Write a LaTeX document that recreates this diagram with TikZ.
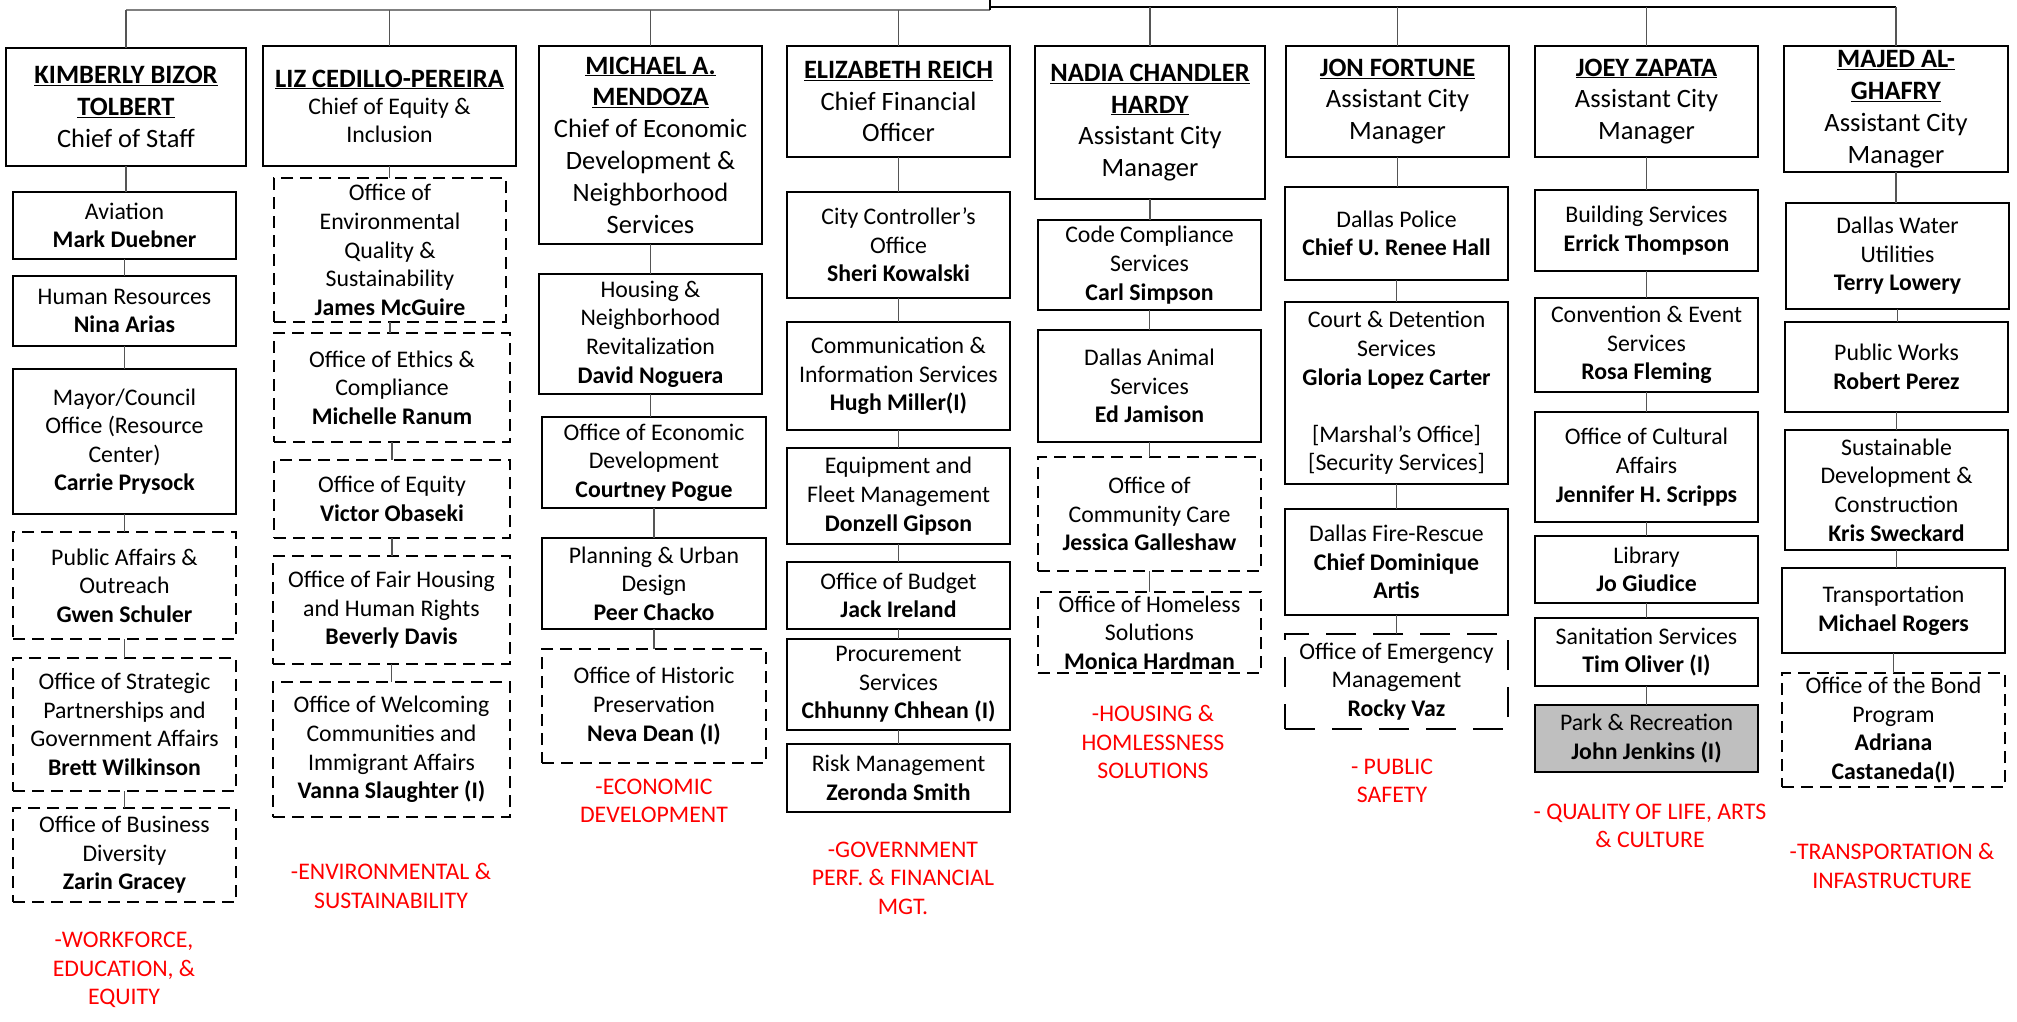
\documentclass[tikz,border=0pt]{standalone}
\usepackage{fontspec}
\setmainfont{Carlito}
\definecolor{parkgray}{RGB}{191,191,191}
\definecolor{conngray}{RGB}{85,85,85}
\definecolor{busgray}{RGB}{128,128,128}
\newcommand\subfont{\fontsize{23.8}{28.6}\selectfont}
\newcommand\headfont{\fontsize{26.5}{31.8}\selectfont}
\newcommand\lizfont{\fontsize{23.8}{27.5}\selectfont}
\newcommand\nm[1]{\underline{\textbf{#1}}}
\tikzset{
 box/.style={draw=black, line width=2pt, rectangle, inner sep=0pt, outer sep=0pt},
 dbox/.style={box, dash pattern=on 12pt off 7pt},
 lbox/.style={box, dash pattern=on 30pt off 17pt},
 gbox/.style={box, fill=parkgray},
 txt/.style={align=center, inner sep=0pt, font=\subfont},
 htxt/.style={align=center, inner sep=0pt, font=\headfont},
 ltxt/.style={align=center, inner sep=0pt, font=\lizfont},
 conn/.style={draw=conngray, line width=1.3pt},
 redlbl/.style={align=center, inner sep=0pt, font=\subfont, text=red},
}
% name, box style, text style, x1, y1, x2, y2, text
\newcommand\orgbox[8]{%
 \node[#2, minimum width={(#6-#4)*1pt}, minimum height={(#7-#5)*1pt}] (#1) at ({(#4+#6)/2},{-(#5+#7)/2}) {};
 \node[#3] (#1t) at (#1.center) {#8};}
\begin{document}
\begin{tikzpicture}[x=1pt,y=1pt]
\useasboundingbox (0,0) rectangle (2017,-1021);
% ---------- column 1
\orgbox{h1}{box}{htxt}{6}{48}{246}{166}{\nm{KIMBERLY BIZOR}\\\nm{TOLBERT}\\Chief of Staff}
\orgbox{c1a}{box}{txt}{13}{192}{236}{259}{Aviation\\\textbf{Mark Duebner}}
\orgbox{c1b}{box}{txt}{13}{276}{236}{346}{Human Resources\\\textbf{Nina Arias}}
\orgbox{c1c}{box}{txt}{13}{369}{236}{514}{Mayor/Council\\Office (Resource\\Center)\\\textbf{Carrie Prysock}}
\orgbox{c1d}{dbox}{txt}{13}{532}{236}{639}{Public Affairs \&\\Outreach\\\textbf{Gwen Schuler}}
\orgbox{c1e}{dbox}{txt}{13}{658}{236}{791}{Office of Strategic\\Partnerships and\\Government Affairs\\\textbf{Brett Wilkinson}}
\orgbox{c1f}{dbox}{txt}{13}{808}{236}{902}{Office of Business\\Diversity\\\textbf{Zarin Gracey}}
% ---------- column 2
\orgbox{h2}{box}{ltxt}{263}{46}{516}{166}{{\headfont\nm{LIZ CEDILLO-PEREIRA}}\\Chief of Equity \&\\Inclusion}
\orgbox{c2a}{dbox}{txt}{274}{178}{506}{322}{Office of\\Environmental\\Quality \&\\Sustainability\\\textbf{James McGuire}}
\orgbox{c2b}{dbox}{txt}{274}{333}{510}{442}{Office of Ethics \&\\Compliance\\\textbf{Michelle Ranum}}
\orgbox{c2c}{dbox}{txt}{274}{460}{510}{538}{Office of Equity\\\textbf{Victor Obaseki}}
\orgbox{c2d}{dbox}{txt}{273}{556}{510}{664}{Office of Fair Housing\\and Human Rights\\\textbf{Beverly Davis}}
\orgbox{c2e}{dbox}{txt}{273}{682}{510}{817}{Office of Welcoming\\Communities and\\Immigrant Affairs\\\textbf{Vanna Slaughter (I)}}
% ---------- column 3
\orgbox{h3}{box}{htxt}{539}{46}{762}{244}{\nm{MICHAEL A.}\\\nm{MENDOZA}\\Chief of Economic\\Development \&\\Neighborhood\\Services}
\orgbox{c3a}{box}{txt}{539}{274}{762}{394}{Housing \&\\Neighborhood\\Revitalization\\\textbf{David Noguera}}
\orgbox{c3b}{box}{txt}{542}{417}{766}{508}{Office of Economic\\Development\\\textbf{Courtney Pogue}}
\orgbox{c3c}{box}{txt}{542}{538}{766}{629}{Planning \& Urban\\Design\\\textbf{Peer Chacko}}
\orgbox{c3d}{dbox}{txt}{542}{649}{766}{763}{Office of Historic\\Preservation\\\textbf{Neva Dean (I)}}
% ---------- column 4
\orgbox{h4}{box}{htxt}{787}{46}{1010}{157}{\nm{ELIZABETH REICH}\\Chief Financial\\Officer}
\orgbox{c4a}{box}{txt}{787}{192}{1010}{298}{City Controller’s\\Office\\\textbf{Sheri Kowalski}}
\orgbox{c4b}{box}{txt}{787}{322}{1010}{430}{Communication \&\\Information Services\\\textbf{Hugh Miller(I)}}
\orgbox{c4c}{box}{txt}{787}{448}{1010}{544}{Equipment and\\Fleet Management\\\textbf{Donzell Gipson}}
\orgbox{c4d}{box}{txt}{787}{562}{1010}{629}{Office of Budget\\\textbf{Jack Ireland}}
\orgbox{c4e}{box}{txt}{787}{639}{1010}{730}{Procurement\\Services\\\textbf{Chhunny Chhean (I)}}
\orgbox{c4f}{box}{txt}{787}{744}{1010}{812}{Risk Management\\\textbf{Zeronda Smith}}
% ---------- column 5
\orgbox{h5}{box}{htxt}{1035}{46}{1265}{199}{\nm{NADIA CHANDLER}\\\nm{HARDY}\\Assistant City\\Manager}
\orgbox{c5a}{box}{txt}{1038}{220}{1261}{310}{Code Compliance\\Services\\\textbf{Carl Simpson}}
\orgbox{c5b}{box}{txt}{1038}{330}{1261}{442}{Dallas Animal\\Services\\\textbf{Ed Jamison}}
\orgbox{c5c}{dbox}{txt}{1038}{457}{1261}{571}{Office of\\Community Care\\\textbf{Jessica Galleshaw}}
\orgbox{c5d}{dbox}{txt}{1038}{592}{1261}{673}{Office of Homeless\\Solutions\\\textbf{Monica Hardman}}
% ---------- column 6
\orgbox{h6}{box}{htxt}{1286}{46}{1509}{157}{\nm{JON FORTUNE}\\Assistant City\\Manager}
\orgbox{c6a}{box}{txt}{1285}{187}{1508}{280}{Dallas Police\\\textbf{Chief U. Renee Hall}}
\orgbox{c6b}{box}{txt}{1285}{302}{1508}{484}{Court \& Detention\\Services\\\textbf{Gloria Lopez Carter}\\[28.6pt]{[Marshal’s Office]}\\{[Security Services]}}
\orgbox{c6c}{box}{txt}{1285}{509}{1508}{615}{Dallas Fire-Rescue\\\textbf{Chief Dominique}\\\textbf{Artis}}
\orgbox{c6d}{lbox}{txt}{1285}{634}{1508}{729}{Office of Emergency\\Management\\\textbf{Rocky Vaz}}
% ---------- column 7
\orgbox{h7}{box}{htxt}{1535}{46}{1758}{157}{\nm{JOEY ZAPATA}\\Assistant City\\Manager}
\orgbox{c7a}{box}{txt}{1535}{190}{1758}{271}{Building Services\\\textbf{Errick Thompson}}
\orgbox{c7b}{box}{txt}{1535}{298}{1758}{392}{Convention \& Event\\Services\\\textbf{Rosa Fleming}}
\orgbox{c7c}{box}{txt}{1535}{412}{1758}{522}{Office of Cultural\\Affairs\\\textbf{Jennifer H. Scripps}}
\orgbox{c7d}{box}{txt}{1535}{536}{1758}{603}{Library\\\textbf{Jo Giudice}}
\orgbox{c7e}{box}{txt}{1535}{618}{1758}{686}{Sanitation Services\\\textbf{Tim Oliver (I)}}
\orgbox{c7f}{gbox}{txt}{1535}{705}{1758}{772}{Park \& Recreation\\\textbf{John Jenkins (I)}}
% ---------- column 8
\orgbox{h8}{box}{htxt}{1784}{46}{2008}{172}{\nm{MAJED AL-}\\\nm{GHAFRY}\\Assistant City\\Manager}
\orgbox{c8a}{box}{txt}{1786}{203}{2009}{309}{Dallas Water\\Utilities\\\textbf{Terry Lowery}}
\orgbox{c8b}{box}{txt}{1785}{322}{2008}{412}{Public Works\\\textbf{Robert Perez}}
\orgbox{c8c}{box}{txt}{1785}{430}{2008}{550}{Sustainable\\Development \&\\Construction\\\textbf{Kris Sweckard}}
\orgbox{c8d}{box}{txt}{1782}{568}{2005}{653}{Transportation\\\textbf{Michael Rogers}}
\orgbox{c8e}{dbox}{txt}{1782}{673}{2005}{787}{Office of the Bond\\Program\\\textbf{Adriana}\\\textbf{Castaneda(I)}}
% ---------- red labels
\node[redlbl] (r1) at (124,-970) {-WORKFORCE,\\EDUCATION, \&\\EQUITY};
\node[redlbl] (r2) at (391,-886) {-ENVIRONMENTAL \&\\SUSTAINABILITY};
\node[redlbl] (r3) at (654,-801) {-ECONOMIC\\DEVELOPMENT};
\node[redlbl] (r4) at (903,-878) {-GOVERNMENT\\PERF. \& FINANCIAL\\MGT.};
\node[redlbl] (r5) at (1153,-742) {-HOUSING \&\\HOMLESSNESS\\SOLUTIONS};
\node[redlbl] (r6) at (1392,-781) {- PUBLIC\\SAFETY};
\node[redlbl] (r7) at (1650,-826) {- QUALITY OF LIFE, ARTS\\\& CULTURE};
\node[redlbl] (r8) at (1892,-866) {-TRANSPORTATION \&\\INFASTRUCTURE};
% ---------- connectors
\coordinate (cm) at (990,0);
\coordinate (busL) at (990,-10);
\coordinate (busR) at (990,-7);
\draw[draw=busgray, line width=2.4pt] (busL) -- (busL -| h1.north);
\draw[draw=black, line width=1.4pt] (cm) -- (busL);
\draw[draw=black, line width=1.3pt] (busR) -- (busR -| h8.north);
\foreach \h in {h1,h2,h3,h4} \draw[conn] (busL -| \h.north) -- (\h.north);
\foreach \h in {h5,h6,h7,h8} \draw[conn] (busR -| \h.north) -- (\h.north);
\foreach \a/\b in {h1/c1a,c1a/c1b,c1b/c1c,c1c/c1d,c1d/c1e,c1e/c1f,
  h2/c2a,c2a/c2b,c2b/c2c,c2c/c2d,c2d/c2e,
  h3/c3a,c3a/c3b,c3b/c3c,c3c/c3d,
  h4/c4a,c4a/c4b,c4b/c4c,c4c/c4d,c4d/c4e,c4e/c4f,
  h5/c5a,c5a/c5b,c5b/c5c,c5c/c5d,
  h6/c6a,c6a/c6b,c6b/c6c,c6c/c6d,
  h7/c7a,c7a/c7b,c7b/c7c,c7c/c7d,c7d/c7e,c7e/c7f,
  h8/c8a,c8a/c8b,c8b/c8c,c8c/c8d,c8d/c8e}
  \draw[conn] (\a.south) -- (\a.south |- \b.north);
\end{tikzpicture}
\end{document}
